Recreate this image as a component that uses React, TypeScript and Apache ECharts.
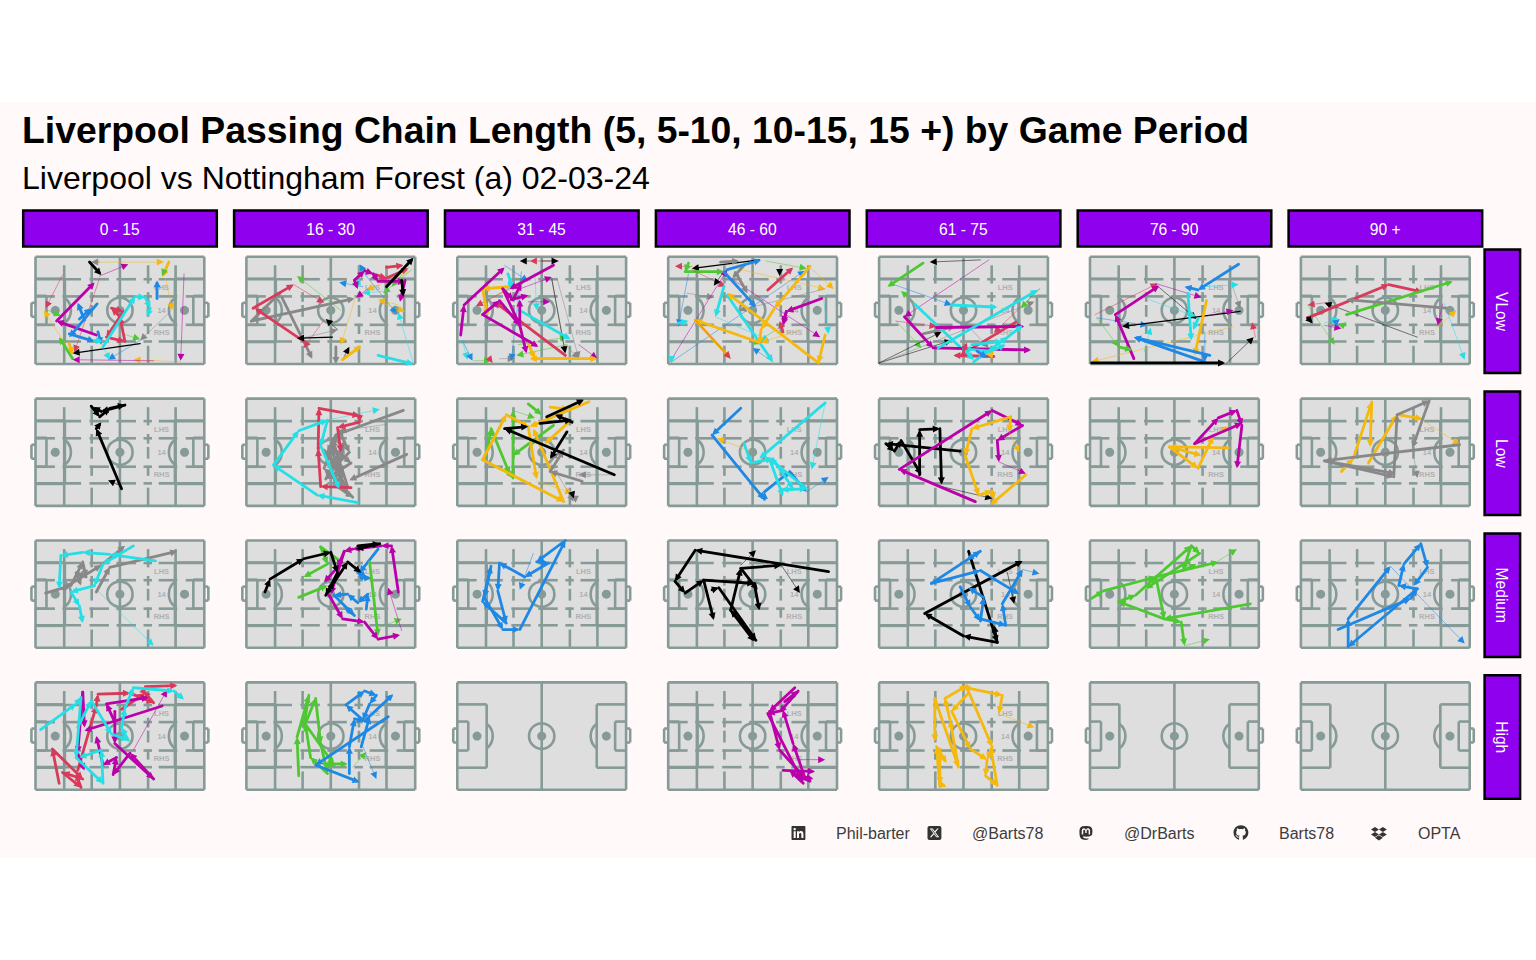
import React, { useEffect, useRef } from "react";
import * as echarts from "echarts";

type Chain = [string, number, number[]];

const PERIODS = ["0 - 15", "16 - 30", "31 - 45", "46 - 60", "61 - 75", "76 - 90", "90 +"];
const INTENSITY = ["VLow", "Low", "Medium", "High"];
const TITLE = "Liverpool Passing Chain Length (5, 5-10, 10-15, 15 +) by Game Period";
const SUBTITLE = "Liverpool vs Nottingham Forest (a) 02-03-24";
const ZONE_LABELS: [string, number][] = [["LHS", 71], ["14", 50], ["RHS", 29]];
const CREDITS: [string, number][] = [["Phil-barter", 836], ["@Barts78", 972], ["@DrBarts", 1124], ["Barts78", 1279], ["OPTA", 1418]];

const COLORS: Record<string, string> = {
  b: "#1E88E5", c: "#26DFE6", m: "#BA00A8", r: "#D93A5B", g: "#4EC832", y: "#F5B80C", k: "#000000", a: "#888888",
};
const COLOR_KEYS = Object.keys(COLORS);

// [colour, weight (1 thick, 0.5 medium, 0 thin), x,y, x,y, ...] on a 0-100 pitch scale
const VLOW_0_15: Chain[] = [
  ["y", 0, [33, 95, 76, 95]], ["a", 0, [38, 95, 33, 95]], ["k", 1, [32, 95, 39, 83]], ["m", 0, [38, 82, 55, 93]],
  ["r", 0, [16, 83, 6, 52]], ["r", 0, [38, 80, 23, 11]], ["y", 0, [21, 10, 5, 50]], ["g", 0, [6, 51, 15, 45]],
  ["g", 1, [22, 5, 14, 25]], ["y", 1, [20, 19, 22, 9]], ["y", 0, [86, 2, 58, 4]], ["m", 0, [70, 3, 22, 4]],
  ["a", 0, [80, 49, 62, 22]], ["b", 0, [62, 22, 43, 4]], ["k", 0.5, [62, 19, 22, 10]], ["g", 0, [52, 28, 62, 23]],
  ["m", 0, [88, 84, 86, 3]], ["y", 0, [77, 80, 81, 50]], ["m", 1, [36, 27, 12.5, 40, 35, 76]],
  ["b", 1, [36.5, 56, 20, 25]], ["b", 1, [29, 41, 25, 57]], ["b", 1, [26, 42, 33, 52]], ["b", 1, [20, 28, 35, 21]], ["b", 1, [37, 30, 39, 18]],
  ["c", 1, [35, 22, 40, 21]], ["c", 0, [40, 16, 44, 4]], ["r", 1, [53, 21, 50, 44, 45, 52, 52, 49, 42, 25, 53, 21]],
  ["c", 1, [40, 16, 59, 63, 65, 62, 68, 52, 66, 44]], ["y", 1, [79, 95, 75, 81]], ["g", 0, [76, 86, 75, 82]], ["b", 1, [72, 61, 72, 78]],
];
const VLOW_16_30: Chain[] = [
  ["a", 1, [3, 40, 64, 61]], ["a", 1, [3, 40, 21, 68]], ["a", 1, [21, 62, 39, 5]], ["r", 1, [4, 52, 28, 74]], ["r", 1, [34, 21, 5, 52]],
  ["r", 0, [28, 74, 46, 57]], ["r", 0, [46, 41, 34, 15]], ["g", 0, [56, 50, 30, 82]], ["a", 0, [33, 24, 54, 32]], ["k", 0.5, [51, 25, 30, 24]],
  ["k", 0, [54, 32, 47, 42]], ["y", 0, [65, 64, 56, 18]], ["a", 1, [53, 16, 53, 0]], ["k", 0, [57, 4, 61, 16]], ["y", 1, [57, 4, 68, 17]],
  ["c", 1, [78, 8, 99, 0]], ["c", 0, [99, 0, 90, 48]], ["b", 0, [71, 83, 67, 93]], ["b", 0, [70, 84, 89, 47]], ["b", 0, [69, 72, 55, 76]],
  ["y", 0, [78, 58, 94, 49]], ["y", 0, [90, 55, 78, 60]], ["r", 1, [80, 78, 96, 89]], ["r", 1, [83, 90, 93, 92]], ["r", 1, [75, 84, 83, 80]],
  ["g", 0, [98, 88, 81, 66]], ["g", 0, [96, 90, 86, 72]], ["y", 0, [96, 86, 71, 69]], ["c", 0, [83, 68, 69, 66]], ["c", 1, [66, 74, 67, 80]],
  ["m", 1, [64, 78, 70, 87, 75, 84, 78, 77, 94, 77]], ["m", 1, [64, 78, 66, 70]], ["m", 1, [94, 78, 91, 58]], ["m", 0, [72, 70, 65, 62]],
  ["k", 1, [83, 72, 99, 99]], ["k", 1, [92, 78, 93, 63]],
];
const VLOW_31_45: Chain[] = [
  ["r", 0, [60, 96, 43, 96]], ["k", 0, [43, 96, 37, 96]], ["k", 0, [50, 96, 60, 96]], ["g", 0, [13, 55, 41, 80]], ["r", 0, [41, 78, 11, 54]],
  ["c", 0, [3, 22, 6, 4]], ["b", 0, [3, 22, 9, 3]], ["g", 0, [10, 3, 20, 3]], ["r", 0, [20, 3, 21, 1]], ["a", 0, [25, 5, 34, 5]], ["g", 0, [36, 18, 65, 25]],
  ["b", 0, [28, 92, 42, 77]], ["b", 0, [38, 86, 32, 3]], ["c", 0, [46, 84, 47, 50]], ["a", 0, [56, 79, 64, 10]], ["a", 0, [59, 80, 72, 5]], ["k", 0, [56, 79, 64, 10]],
  ["m", 0, [37, 70, 56, 81]], ["m", 0, [42, 58, 55, 58]], ["m", 0, [72, 18, 83, 5]], ["g", 0, [65, 18, 35, 8]], ["a", 0, [64, 18, 72, 5]],
  ["r", 1, [64, 8, 22, 58]], ["c", 1, [37, 50, 67, 23]], ["c", 1, [30, 84, 33, 70, 30, 78]], ["y", 1, [30, 72, 15, 70, 18, 45]],
  ["y", 1, [42, 19, 46, 5, 83, 5]], ["y", 1, [70, 5, 43, 5]], ["m", 1, [2, 27, 4, 55, 28, 90]], ["m", 1, [57, 92, 31, 70]],
  ["m", 1, [15, 46, 25, 59, 37, 36, 41, 10]], ["m", 1, [15, 46, 48, 16]], ["m", 1, [32, 60, 42, 64]], ["m", 1, [27, 70, 37, 36, 37, 60]], ["m", 1, [27, 70, 33, 60, 38, 75]],
];
const VLOW_46_60: Chain[] = [
  ["r", 0, [14, 91, 4, 91]], ["k", 0.5, [54, 97, 14, 89]], ["g", 1, [12, 94, 10, 86, 33, 86]], ["g", 0, [58, 96, 82, 89]], ["b", 0, [12, 84, 6, 35]],
  ["r", 0, [14, 88, 34, 72]], ["a", 0, [11, 66, 27, 62]], ["c", 1, [6, 38, 12, 40]], ["m", 0, [1, 2, 35, 88]], ["b", 0, [2, 2, 81, 87]], ["c", 0, [2, 2, 2, 1]],
  ["y", 0, [84, 90, 98, 70]], ["y", 0, [40, 89, 93, 70]], ["a", 0, [93, 70, 42, 50]], ["m", 0, [34, 83, 90, 25]], ["c", 0, [28, 44, 60, 22]], ["y", 0, [78, 32, 55, 20]],
  ["c", 0, [92, 60, 95, 28]], ["g", 0, [68, 36, 50, 18]], ["b", 0, [62, 2, 50, 15]], ["a", 1, [31, 95, 42, 96]], ["a", 1, [40, 85, 47, 66]], ["a", 1, [45, 92, 38, 80]],
  ["b", 1, [35, 88, 55, 97]], ["b", 1, [33, 86, 52, 53]], ["c", 1, [33, 72, 28, 44]], ["c", 1, [35, 64, 62, 2]], ["y", 1, [93, 27, 89, 1, 35, 66]],
  ["y", 1, [84, 91, 63, 52, 55, 32, 54, 18]], ["y", 1, [54, 20, 16, 41]], ["y", 1, [16, 41, 37, 5]], ["r", 0, [16, 41, 37, 5]], ["r", 1, [59, 69, 74, 90]],
  ["r", 1, [68, 30, 66, 40]], ["m", 1, [91, 61, 70, 49, 68, 36]], ["m", 1, [70, 49, 68, 38]], ["k", 0, [32, 84, 27, 73]], ["k", 0, [66, 88, 66, 82]],
];
const VLOW_61_75: Chain[] = [
  ["k", 0, [60, 97, 30, 95]], ["m", 0, [65, 97, 15, 44]], ["b", 0, [7, 75, 43, 55]], ["g", 0, [26, 50, 13, 68]], ["r", 0, [10, 40, 34, 35]], ["g", 0, [10, 40, 25, 15]],
  ["k", 0, [0, 1, 43, 22]], ["k", 0, [0, 1, 37, 30]], ["a", 0, [1, 1, 92, 58]], ["r", 0, [95, 70, 68, 29]], ["g", 0, [95, 70, 84, 52]], ["a", 0, [50, 40, 65, 15]],
  ["g", 1, [26, 94, 5, 72]], ["a", 1, [26, 28, 45, 35]], ["c", 1, [43, 55, 70, 53]], ["c", 1, [21, 56, 56, 4]], ["r", 1, [81, 39, 48, 8]], ["r", 1, [68, 7, 44, 8]],
  ["m", 1, [15, 44, 32, 15, 90, 13]], ["m", 1, [34, 34, 86, 35]], ["c", 1, [35, 15, 94, 69]], ["c", 1, [55, 18, 73, 21, 85, 36]], ["c", 1, [56, 2, 76, 25]], ["c", 1, [66, 12, 50, 14, 56, 4]], ["c", 1, [60, 8, 75, 18]],
  ["r", 1, [50, 12, 52, 20]], ["y", 0, [66, 8, 68, 12]], ["b", 1, [58, 12, 64, 6]],
];
const VLOW_76_90: Chain[] = [
  ["r", 0, [3, 46, 40, 75]], ["m", 0, [39, 75, 66, 62]], ["k", 0, [39, 74, 63, 42]], ["a", 0, [84, 74, 89, 52]], ["c", 0, [67, 72, 88, 74]], ["c", 0, [35, 60, 63, 44]],
  ["b", 0, [4, 43, 34, 36]], ["g", 0, [4, 43, 17, 16]], ["c", 0, [32, 11, 36, 34]], ["b", 0, [68, 30, 68, 2]], ["y", 0, [85, 35, 1, 2]], ["k", 0, [81, 1, 97, 25]], ["r", 0, [98, 25, 96, 39]],
  ["b", 1, [88, 93, 64, 69, 56, 72]], ["m", 1, [26, 5, 15, 46, 41, 73]], ["k", 0.5, [89, 49, 19, 35]], ["c", 1, [58, 66, 60, 22]], ["c", 1, [64, 42, 61, 32]],
  ["y", 1, [69, 59, 62, 8]], ["b", 1, [71, 8, 26, 25]], ["b", 1, [68, 2, 26, 25]], ["k", 1, [1, 1, 80, 1]], ["g", 1, [17, 16, 25, 13]], ["m", 0, [70, 45, 85, 50]],
];
const VLOW_90: Chain[] = [
  ["k", 0, [69, 25, 14, 57]], ["r", 0, [14, 57, 4, 55]], ["g", 0, [4, 55, 20, 18]], ["c", 0, [14, 38, 22, 43]], ["m", 0, [14, 36, 24, 33]], ["c", 0, [85, 56, 97, 4]],
  ["m", 0, [84, 56, 81, 36]], ["y", 0, [80, 33, 92, 50]], ["r", 1, [4, 43, 52, 74, 72, 67]], ["g", 1, [27, 46, 90, 77]], ["a", 1, [86, 52, 27, 60]], ["k", 1, [4, 43, 7, 38]], ["b", 0, [20, 38, 23, 42]], ["g", 0, [23, 34, 27, 39]],
];
const LOW_0_15: Chain[] = [
  ["k", 1, [51, 16, 36, 72, 39, 78]], ["k", 1, [33, 93, 38, 83, 44, 91, 53, 94, 39, 88, 34, 92]], ["k", 0, [50, 19, 43, 24]],
];
const LOW_16_30: Chain[] = [
  ["c", 0, [48, 80, 79, 90]], ["a", 1, [93, 89, 53, 66]], ["a", 1, [95, 48, 61, 24]],
  ["a", 1, [53, 66, 48, 50, 60, 10, 50, 55, 62, 40, 47, 25, 58, 60, 52, 20, 63, 8, 46, 35, 55, 70, 61, 50, 48, 30, 60, 18, 51, 62, 57, 28, 46, 52, 54, 38]], ["a", 0, [83, 76, 55, 70]],
  ["r", 1, [62, 17, 44, 18, 42.5, 53, 43, 91, 67, 84, 67, 78, 54, 73, 56, 50]],
  ["c", 1, [66, 3, 42, 10, 16, 38, 31, 70, 48, 80, 44, 56, 55, 16]],
];
const LOW_31_45: Chain[] = [
  ["g", 1, [42, 95, 50, 85]], ["g", 1, [17, 47, 20, 72, 31, 30, 33, 26, 33, 89]], ["g", 0, [33, 89, 46, 82]], ["g", 1, [57, 75, 33, 47]],
  ["y", 1, [15, 43, 29, 85, 42, 74, 47, 25]], ["y", 1, [15, 43, 63, 4, 45, 72]], ["y", 1, [78, 97, 43, 74]], ["y", 1, [66, 78, 52, 58]], ["y", 1, [55, 92, 66, 90]], ["y", 0, [47, 23, 68, 12]],
  ["a", 1, [74, 23, 55, 32, 63, 52, 55, 44]], ["a", 0, [55, 41, 69, 4]], ["a", 1, [70, 8, 70, 3]], ["a", 0, [92, 29, 72, 29]],
  ["k", 1, [93, 29, 28, 72, 42, 74]], ["k", 1, [65, 69, 55, 44]], ["k", 1, [49, 77, 68, 80]], ["k", 1, [53, 83, 75, 99]], ["k", 1, [68, 78, 58, 85]], ["k", 0, [68, 12, 69, 7]],
];
const LOW_46_60: Chain[] = [
  ["y", 0, [49, 51, 29, 63]], ["b", 1, [43, 91, 26, 66, 57, 6, 57, 13, 72, 32, 82, 13]], ["b", 0, [82, 13, 95, 27]],
  ["c", 0, [93, 96, 85, 34]], ["c", 1, [93, 96, 54, 44]], ["c", 1, [45, 58, 49, 40, 62, 44, 74, 16, 67, 15, 82, 16, 60, 44, 68, 9]],
];
const LOW_61_75: Chain[] = [
  ["k", 1, [48, 51, 4, 58, 9, 51, 13, 61, 25, 29]], ["k", 1, [24, 29, 24, 71, 36, 72, 37, 20]], ["k", 0, [37, 18, 67, 7]],
  ["m", 1, [57, 4, 12, 34, 67, 89, 85, 75, 70, 61, 71, 41]], ["m", 0, [71, 41, 87, 30]],
  ["y", 1, [78, 83, 55, 72, 51, 47, 59, 10, 67, 14, 68, 6]], ["y", 1, [87, 29, 66, 1]], ["y", 1, [78, 83, 77, 69]], ["y", 0, [77, 69, 83, 50]],
];
const LOW_76_90: Chain[] = [
  ["y", 1, [82, 54, 47, 55, 64, 35, 73, 65]], ["y", 1, [47, 55, 66, 47]], ["y", 0, [73, 66, 82, 74]],
  ["m", 1, [62, 58, 76, 82, 87, 89, 90, 75, 87, 35]], ["m", 1, [62, 58, 90, 77]],
];
const LOW_90: Chain[] = [
  ["y", 1, [24, 32, 31, 44, 42, 97, 41, 55]], ["y", 1, [40, 40, 57, 85, 72, 81]], ["y", 0, [72, 80, 94, 57]],
  ["a", 1, [94, 57, 14, 42, 55, 27, 57, 85, 76, 98, 66, 54]], ["a", 0, [66, 54, 69, 26]], ["a", 1, [14, 42, 56, 30]],
];
const MED_0_15: Chain[] = [
  ["c", 0, [37, 53, 70, 2]], ["a", 1, [6, 51, 21, 58, 28, 80, 30, 66, 24, 70, 27, 58]], ["a", 1, [36, 52, 44, 75, 84, 90]], ["a", 1, [16, 55, 39, 77, 53, 95]],
  ["c", 1, [71, 81, 44, 87, 28, 89, 15, 86, 14, 55]], ["c", 1, [58, 95, 40, 78, 35, 58, 21, 52, 26, 39, 28, 23]],
];
const MED_16_30: Chain[] = [
  ["b", 0, [62, 78, 71, 65]], ["g", 0, [79, 19, 92, 27]], ["m", 0, [92, 16, 84, 56]],
  ["b", 1, [71, 36, 72, 50, 66, 42, 60, 50, 52, 49, 64, 30, 58, 39]], ["b", 1, [78, 92, 67, 70, 68, 65, 74, 65]],
  ["g", 1, [31, 47, 48, 58]], ["g", 1, [48, 78, 34, 66]], ["g", 1, [44, 94, 48, 78]], ["g", 1, [44, 94, 58, 78]], ["g", 1, [73, 80, 78, 11]],
  ["m", 1, [49, 49, 57, 27, 70, 24, 78, 8, 91, 12]], ["m", 1, [90, 52, 86, 95, 80, 95, 63, 92, 58, 90, 54, 75, 46, 61]], ["m", 1, [58, 90, 50, 50]],
  ["k", 1, [11, 52, 14, 64, 34, 83, 50, 89, 54, 70, 47, 49, 52, 61, 60, 80, 68, 70]], ["k", 1, [66, 95, 79, 97, 65, 92]],
];
const MED_31_45: Chain[] = [
  ["b", 0, [45, 88, 37, 54]],
  ["b", 1, [64, 100, 47, 80, 54, 79, 40, 66, 25, 79, 24, 53, 29, 23, 15, 43, 20, 76, 16, 47, 27, 17, 37, 17, 64, 100]],
];
const MED_46_60: Chain[] = [
  ["k", 0, [67, 77, 78, 51]], ["k", 0, [43, 77, 52, 91]],
  ["k", 1, [95, 71, 16, 91, 4, 62, 10, 51, 21, 63, 51, 60, 54, 35]], ["k", 1, [21, 63, 27, 26]], ["k", 1, [26, 54, 30, 56, 52, 7, 37, 35, 51, 6]],
  ["k", 1, [37, 35, 43, 74, 53, 54]], ["k", 1, [43, 74, 67, 77]],
];
const MED_61_75: Chain[] = [
  ["k", 0, [76, 70, 80, 41]], ["b", 0, [85, 73, 95, 69]], ["k", 1, [53, 90, 70, 5, 50, 11, 27, 32, 85, 81]], ["k", 1, [70, 5, 68, 21]],
  ["b", 1, [31, 60, 60, 72, 83, 50]], ["b", 1, [31, 60, 60, 90, 52, 82]], ["b", 1, [48, 57, 54, 38, 60, 25, 62, 47, 53, 56]], ["b", 1, [60, 27, 75, 21, 73, 41, 85, 73]],
];
const MED_76_90: Chain[] = [
  ["g", 0, [76, 81, 87, 92]], ["g", 0, [56, 2, 71, 8]],
  ["g", 1, [1, 46, 8, 53, 39, 66, 60, 95, 65, 88, 33, 55]], ["g", 1, [39, 66, 76, 80]], ["g", 1, [95, 41, 44, 27, 17, 43, 27, 49, 39, 66, 44, 27]],
  ["g", 1, [44, 27, 54, 24, 56, 2]], ["g", 1, [60, 95, 55, 72, 63, 78]],
];
const MED_90: Chain[] = [
  ["b", 0, [53, 76, 97, 4]], ["b", 1, [22, 17, 65, 46, 69, 55, 28, 1, 28, 27, 53, 76]], ["b", 1, [69, 55, 58, 58, 61, 78, 71, 97, 75, 75, 67, 58]],
];
const HIGH_0_15: Chain[] = [
  ["r", 1, [14, 6, 10, 38, 28, 10, 16, 16, 27, 2, 24, 15]],
  ["r", 1, [25, 18, 36, 78, 37, 89, 56, 90, 70, 81, 64, 92, 65, 96, 84, 97]], ["r", 1, [51, 75, 65, 90]],
  ["m", 0, [58, 37, 78, 93]], ["m", 1, [75, 78, 29, 55]], ["m", 1, [47, 63, 42, 80, 67, 86]], ["m", 1, [47, 73, 47, 43, 70, 10, 56, 34, 46, 14, 48, 30, 40, 23, 36, 50]], ["m", 1, [28, 91, 25, 34, 29, 18]], ["m", 1, [28, 91, 29, 58]],
  ["c", 1, [3, 56, 24, 80, 27, 86, 24, 30, 40, 6, 39, 37, 26, 30]], ["c", 1, [25, 58, 33, 83, 45, 52, 55, 46, 51, 58, 53, 76, 58, 95, 82, 92, 88, 84]],
];
const HIGH_16_30: Chain[] = [
  ["g", 0, [63, 21, 71, 35]], ["b", 0, [69, 40, 77, 10]],
  ["g", 1, [31, 13, 30, 49, 37, 88, 34, 58, 41, 85, 44, 43, 48, 15, 38, 30, 35, 61, 52, 23, 46, 24, 60, 24]],
  ["b", 1, [84, 68, 41, 23, 67, 7]], ["b", 1, [61, 15, 61, 40, 64, 66, 70, 64, 87, 89]], ["b", 1, [59, 79, 70, 92, 77, 88, 73, 80, 69, 65, 59, 79]], ["b", 1, [68, 40, 73, 68]],
];
const HIGH_46_60: Chain[] = [
  ["m", 0, [77, 28, 93, 28]], ["m", 1, [75, 95, 60, 73, 66, 37, 81, 11, 74, 43, 68, 74, 59, 71, 80, 6, 72, 18]], ["m", 1, [68, 18, 87, 17]], ["m", 1, [69, 82, 77, 92, 66, 72]], ["m", 1, [84, 8, 75, 14, 86, 10]],
];
const HIGH_61_75: Chain[] = [
  ["y", 0, [71, 71, 92, 58]], ["y", 1, [36, 3, 34, 40, 40, 25]], ["y", 1, [33, 85, 47, 21, 42, 65, 39, 85, 52, 97, 53, 90, 43, 73]],
  ["y", 1, [33, 85, 33, 45]], ["y", 1, [52, 95, 73, 88, 71, 71]], ["y", 1, [52, 95, 67, 40, 64, 28, 63, 13, 70, 4, 66, 40]], ["y", 1, [43, 73, 54, 38, 64, 28]], ["y", 1, [36, 38, 36, 5, 40, 3]],
];

const PANELS: Chain[][][] = [
  [VLOW_0_15, VLOW_16_30, VLOW_31_45, VLOW_46_60, VLOW_61_75, VLOW_76_90, VLOW_90],
  [LOW_0_15, LOW_16_30, LOW_31_45, LOW_46_60, LOW_61_75, LOW_76_90, LOW_90],
  [MED_0_15, MED_16_30, MED_31_45, MED_46_60, MED_61_75, MED_76_90, MED_90],
  [HIGH_0_15, HIGH_16_30, [], HIGH_46_60, HIGH_61_75, [], []],
];

// pitch markings on the same 0-100 scale
const HALF_LINES = [
  [0, 79.5, 17.4, 79.5], [17.4, 79.5, 17.4, 20.5], [17.4, 20.5, 0, 20.5],
  [0, 63.5, 6.5, 63.5], [6.5, 63.5, 6.5, 36.5], [6.5, 36.5, 0, 36.5],
  [-2.4, 57, 0, 57], [-2.4, 57, -2.4, 44], [-2.4, 44, 0, 44],
];
const OUTER_LINES = [[0, 0, 100, 0], [100, 0, 100, 100], [100, 100, 0, 100], [0, 100, 0, 0], [50, 0, 50, 100]];
const ZONE_V_SOLID = [17, 83];
const ZONE_V_DASHED = [33.3, 66.7];
const ZONE_V_SEGS = [[92, 75], [67, 58], [55, 44], [37.5, 28], [17, 0]];
const ZONE_H_OUTER = [21, 79];
const ZONE_H_INNER = [36.5, 63];
const ZONE_OUTER_SEGS = [[0, 27], [32, 43.5], [48, 59.5], [64, 69], [73, 100]];
const ZONE_INNER_SEGS = [[0, 11.5], [16, 27], [32, 43.5], [48, 59.5], [64, 69], [73, 84], [89, 100]];

const LINE = "#869A97";
const LINE_W = 2.6;
const FONT = "Liberation Sans";
const PANEL_LEFT = 35.5, PANEL_TOP = 256.7, PANEL_W = 168.8, PANEL_H = 107.3, STEP_X = 210.9, STEP_Y = 141.9;

const ICONS: [string, number, number, number, string][] = [
  ["linkedin", 791.5, 825, 14 / 448, "M416 32H31.9C14.3 32 0 46.5 0 64.3v383.4C0 465.5 14.3 480 31.9 480H416c17.6 0 32-14.5 32-32.3V64.3c0-17.8-14.4-32.3-32-32.3zM135.4 416H69V202.2h66.5V416zm-33.2-243c-21.3 0-38.5-17.3-38.5-38.5S80.9 96 102.2 96c21.2 0 38.5 17.3 38.5 38.5 0 21.3-17.2 38.5-38.5 38.5zm282.1 243h-66.4V312c0-24.8-.5-56.7-34.5-56.7-34.6 0-39.9 27-39.9 54.9V416h-66.4V202.2h63.7v29.2h.9c8.9-16.8 30.6-34.5 62.9-34.5 67.2 0 79.7 44.3 79.7 101.9V416z"],
  ["xsquare", 927.5, 825, 14 / 448, "M64 32C28.7 32 0 60.7 0 96V416c0 35.3 28.7 64 64 64H384c35.3 0 64-28.7 64-64V96c0-35.3-28.7-64-64-64H64zm297.1 84L257.3 234.6 379.4 396H283.8L209 298.1 123.3 396H75.8l111-126.9L69.7 116h98l67.7 89.5L313.6 116h47.5zM323.3 367.6L153.4 142.9H125.1L296.9 367.6h26.3z"],
  ["mastodon", 1079, 825, 14 / 448, "M433 179.11c0-97.2-63.71-125.7-63.71-125.7-62.52-28.7-228.56-28.4-290.48 0 0 0-63.72 28.5-63.72 125.7 0 115.7-6.6 259.4 105.63 289.1 40.51 10.7 75.32 13 103.33 11.4 50.81-2.8 79.32-18.1 79.32-18.1l-1.7-36.9s-36.31 11.4-77.12 10.1c-40.41-1.4-83-4.4-89.63-54a102.54 102.54 0 0 1-.9-13.9c85.63 20.9 158.65 9.1 178.75 6.7 56.12-6.7 105-41.3 111.23-72.9 9.8-49.8 9-121.5 9-121.5zm-75.12 125.2h-46.63v-114.2c0-49.7-64-51.6-64 6.9v62.5h-46.33V197c0-58.5-64-56.6-64-6.9v114.2H90.19c0-122.1-5.2-147.9 18.41-175 25.9-28.9 79.82-30.8 103.83 6.1l11.6 19.5 11.6-19.5c24.11-37.1 78.12-34.8 103.83-6.1 23.71 27.3 18.4 53 18.4 175z"],
  ["github", 1233.5, 825, 15 / 496, "M165.9 397.4c0 2-2.3 3.6-5.2 3.6-3.3 0-5.6-1.6-5.6-3.6 0-2 2.3-3.6 5.2-3.6 3-.3 5.6 1.3 5.6 3.6zm-31.1-4.5c-.7 2 1.3 4.3 4.3 4.9 2.6 1 5.6 0 6.2-2s-1.3-4.3-4.3-5c-2.6-.7-5.5.3-6.2 2.1zm44.2-1.7c-2.9.7-4.9 2.6-4.6 4.9.3 2 2.9 3.3 5.9 2.6 2.9-.7 4.9-2.6 4.6-4.6-.3-1.9-3-3.2-5.9-2.9zM244.8 8C106.1 8 0 113.3 0 252c0 110.9 69.8 205.8 169.5 239.2 12.8 2.3 17.3-5.6 17.3-12.1 0-6.2-.3-40.4-.3-61.4 0 0-70 15-84.7-29.8 0 0-11.4-29.1-27.8-36.6 0 0-22.9-15.7 1.6-15.4 0 0 24.9 2 38.6 25.8 21.9 38.6 58.6 27.5 72.9 20.9 2.3-16 8.8-27.1 16-33.7-55.9-6.2-112.3-14.3-112.3-110.5 0-27.5 7.6-41.3 23.6-58.9-2.6-6.5-11.1-33.3 2.6-67.9 20.9-6.5 69 27 69 27 20-5.6 41.5-8.5 62.8-8.5s42.8 2.9 62.8 8.5c0 0 48.1-33.6 69-27 13.7 34.7 5.2 61.4 2.6 67.9 16 17.7 25.8 31.5 25.8 58.9 0 96.5-58.9 104.2-114.8 110.5 9.2 7.9 17 22.9 17 46.4 0 33.7-.3 75.4-.3 83.6 0 6.5 4.6 14.4 17.3 12.1C428.2 457.8 496 362.9 496 252 496 113.3 383.5 8 244.8 8z"],
  ["dropbox", 1371, 826, 16 / 528, "M264.4 116.3l-132 84.3 132 84.3-132 84.3L0 284.1l132.3-84.3L0 116.3 132.3 32l132.1 84.3zM131.6 395.7l132-84.3 132 84.3-132 84.3-132-84.3zm132.8-111.6l132-84.3-132-83.6L395.7 32 528 116.3l-132.3 84.3L528 284.8l-132.3 84.3-131.3-85z"],
];
ICONS.forEach(([name, , , , d]) => echarts.graphic.registerShape(name, echarts.graphic.extendPath(d, {}) as any));

function passRows(chains: Chain[]): number[][] {
  const rows: number[][] = [];
  chains.forEach(([color, weight, pts]) => {
    for (let i = 0; i + 3 < pts.length; i += 2) rows.push([pts[i], pts[i + 1], pts[i + 2], pts[i + 3], weight, COLOR_KEYS.indexOf(color)]);
  });
  return rows;
}

function renderPass(_: any, api: any) {
  const a = api.coord([api.value(0), api.value(1)]);
  const b = api.coord([api.value(2), api.value(3)]);
  const weight = api.value(4);
  const color = COLORS[COLOR_KEYS[api.value(5)]];
  const dx = b[0] - a[0], dy = b[1] - a[1];
  const len = Math.hypot(dx, dy) || 1;
  const ux = dx / len, uy = dy / len;
  const L = 7, H = 3.5;
  const bx = b[0] - ux * L, by = b[1] - uy * L;
  const lineWidth = weight === 1 ? 2.8 : weight === 0.5 ? 1.2 : 0.6;
  return {
    type: "group",
    children: [
      { type: "line", shape: { x1: a[0], y1: a[1], x2: b[0] - ux * 3, y2: b[1] - uy * 3 }, style: { stroke: color, lineWidth, lineCap: "round", opacity: weight === 0 ? 0.85 : 1 } },
      { type: "polygon", shape: { points: [[b[0], b[1]], [bx - uy * H, by + ux * H], [bx + uy * H, by - ux * H]] }, style: { fill: color } },
    ],
  };
}

function pitchRenderer(zones: boolean) {
  return (_: any, api: any) => {
    const seg = (x1: number, y1: number, x2: number, y2: number) => {
      const p = api.coord([x1, y1]), q = api.coord([x2, y2]);
      return { type: "line", shape: { x1: p[0], y1: p[1], x2: q[0], y2: q[1] }, style: { stroke: LINE, lineWidth: LINE_W } };
    };
    const pxX = (x: number) => api.coord([x, 50])[0];
    const cy = api.coord([50, 50])[1];
    const tl = api.coord([0, 100]), br = api.coord([100, 0]);
    const dot = (x: number, r: number, fill: boolean) => ({
      type: "circle", shape: { cx: pxX(x), cy, r },
      style: fill ? { fill: LINE } : { fill: "none", stroke: LINE, lineWidth: LINE_W },
    });
    const children: any[] = [
      { type: "rect", shape: { x: tl[0], y: tl[1], width: br[0] - tl[0], height: br[1] - tl[1] }, style: { fill: "#DEDEDE" } },
    ];
    if (zones) {
      ZONE_V_SOLID.forEach((x) => children.push(seg(x, 92, x, 0)));
      ZONE_V_DASHED.forEach((x) => ZONE_V_SEGS.forEach(([a, b]) => children.push(seg(x, a, x, b))));
      ZONE_H_OUTER.forEach((y) => ZONE_OUTER_SEGS.forEach(([a, b]) => children.push(seg(a, y, b, y))));
      ZONE_H_INNER.forEach((y) => ZONE_INNER_SEGS.forEach(([a, b]) => children.push(seg(a, y, b, y))));
    }
    OUTER_LINES.forEach(([a, b, c, d]) => children.push(seg(a, b, c, d)));
    HALF_LINES.forEach(([a, b, c, d]) => {
      children.push(seg(a, b, c, d));
      children.push(seg(100 - a, b, 100 - c, d));
    });
    children.push(dot(50, 12.7, false), dot(50, 4.5, true), dot(11.7, 4.5, true), dot(88.3, 4.5, true));
    children.push({ type: "arc", shape: { cx: pxX(11.7), cy, r: 15.7, startAngle: -0.91, endAngle: 0.91 }, style: { stroke: LINE, lineWidth: LINE_W, fill: "none" } });
    children.push({ type: "arc", shape: { cx: pxX(88.3), cy, r: 15.7, startAngle: Math.PI - 0.91, endAngle: Math.PI + 0.91 }, style: { stroke: LINE, lineWidth: LINE_W, fill: "none" } });
    if (zones) {
      ZONE_LABELS.forEach(([t, y]) => {
        const p = api.coord([74.7, y]);
        children.push({ type: "text", style: { text: t, x: p[0], y: p[1], align: "center", verticalAlign: "middle", fill: "#B0B0B0", fontSize: 7.5, fontWeight: "bold", fontFamily: FONT } });
      });
    }
    return { type: "group", children };
  };
}

function buildOption() {
  const grid: any[] = [], xAxis: any[] = [], yAxis: any[] = [], series: any[] = [];
  PANELS.forEach((row, r) => row.forEach((chains, c) => {
    const i = grid.length;
    grid.push({ left: PANEL_LEFT + STEP_X * c, top: PANEL_TOP + STEP_Y * r, width: PANEL_W, height: PANEL_H });
    xAxis.push({ type: "value", gridIndex: i, min: 0, max: 100, show: false });
    yAxis.push({ type: "value", gridIndex: i, min: 0, max: 100, show: false });
    series.push({ type: "custom", xAxisIndex: i, yAxisIndex: i, silent: true, z: 2, data: [[50, 50]], renderItem: pitchRenderer(chains.length > 0) });
    if (chains.length) {
      series.push({ type: "custom", xAxisIndex: i, yAxisIndex: i, silent: true, z: 3, data: passRows(chains), encode: { x: [0, 2], y: [1, 3] }, renderItem: renderPass });
    }
  }));

  const txt = (text: string, x: number, y: number, fontSize: number, fill: string, extra: any = {}) => ({
    type: "text", x, y, ...extra.el,
    style: { text, x: 0, y: 0, fontSize, fill, fontFamily: FONT, align: "left", verticalAlign: "middle", ...extra.style },
  });
  const elements: any[] = [
    { type: "rect", shape: { x: 0, y: 102, width: 1536, height: 756 }, style: { fill: "#FFF9F9" } },
    txt(TITLE, 22, 130, 37.35, "#000000", { style: { fontWeight: "bold" } }),
    txt(SUBTITLE, 22, 178, 32, "#000000"),
  ];
  PERIODS.forEach((p, c) => {
    elements.push({ type: "rect", shape: { x: 23.2 + STEP_X * c, y: 210.5, width: 193.6, height: 36 }, style: { fill: "#8F00EE", stroke: "#000", lineWidth: 2.5 } });
    elements.push(txt(p, 119.7 + STEP_X * c, 229, 15.6, "#FFFFFF", { style: { align: "center" } }));
  });
  INTENSITY.forEach((s, r) => {
    elements.push({ type: "rect", shape: { x: 1484.6, y: 249.6 + STEP_Y * r, width: 35.5, height: 123.5 }, style: { fill: "#8F00EE", stroke: "#000", lineWidth: 2.5 } });
    elements.push(txt(s, 1501.5, 311.5 + STEP_Y * r, 15.6, "#FFFFFF", { el: { rotation: -Math.PI / 2 }, style: { align: "center" } }));
  });
  ICONS.forEach(([name, x, y, k]) => elements.push({ type: name, x, y, scaleX: k, scaleY: k, style: { fill: "#333333" } }));
  CREDITS.forEach(([t, x]) => elements.push(txt(t, x, 833, 16, "#3C3C3C")));

  return { animation: false, backgroundColor: "#FFFFFF", grid, xAxis, yAxis, series, graphic: { elements } };
}

export default function App() {
  const ref = useRef<HTMLDivElement>(null);
  useEffect(() => {
    const chart = echarts.init(ref.current!, undefined, { renderer: "svg" });
    chart.setOption(buildOption() as any);
    return () => chart.dispose();
  }, []);
  return <div ref={ref} style={{ position: "fixed", left: 0, top: 0, width: 1536, height: 960 }} />;
}
